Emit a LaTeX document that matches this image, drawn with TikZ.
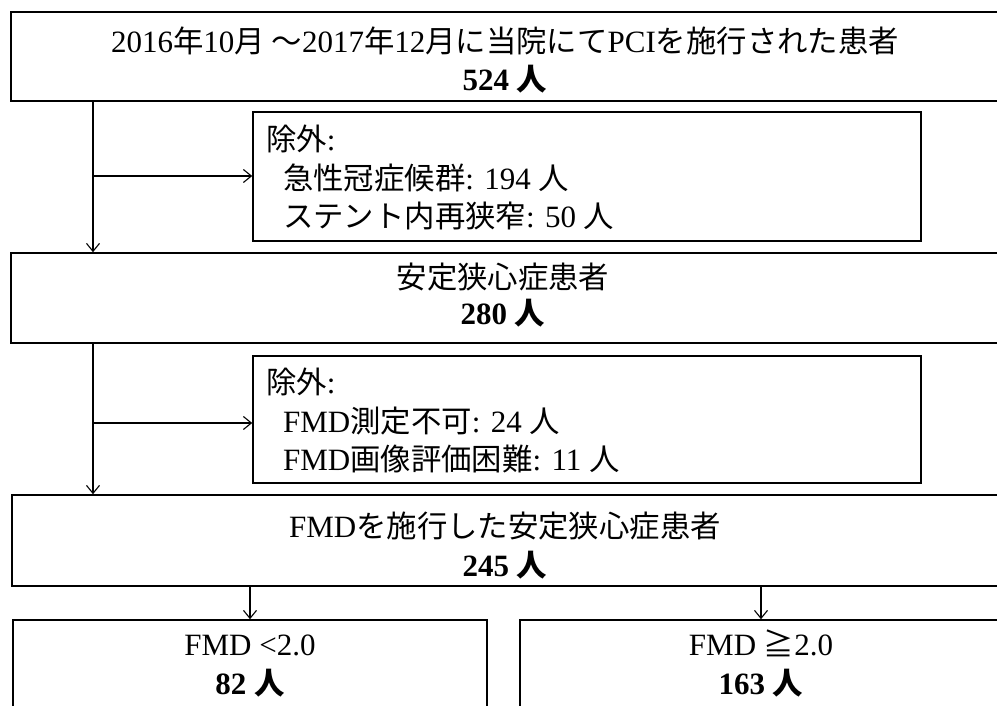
\documentclass[tikz,border=0pt]{standalone}
\usepackage{fontspec}
\setmainfont{Liberation Serif}
\newfontfamily\jf{Noto Sans CJK JP}[Scale=0.98]
\newcommand\J[1]{{\jf #1}}
\usetikzlibrary{arrows.meta}
\begin{document}
\begin{tikzpicture}[x=1pt,y=-1pt,
  box/.style={draw, line width=1.5pt, inner sep=0pt},
  arr/.style={line width=1.1pt, -{Straight Barb[length=8pt,width=13pt,line width=1.1pt]}},
  txt/.style={font=\fontsize{31}{37}\selectfont, inner sep=0pt, text height=26pt, text depth=5pt}]
\useasboundingbox (0,0) rectangle (997,706);
\clip (0,0) rectangle (997,706);
\fill[white] (0,0) rectangle (997,706);
% boxes
\node[box, minimum width=989pt, minimum height=89pt] (top) at (505.5,56.5) {};
\node[box, minimum width=668pt, minimum height=129pt] (ex1) at (587,176.5) {};
\node[box, minimum width=989pt, minimum height=90pt] (mid) at (505.5,298) {};
\node[box, minimum width=668pt, minimum height=127pt] (ex2) at (587,419.5) {};
\node[box, minimum width=988pt, minimum height=91pt] (fmd) at (506,540.5) {};
\node[box, minimum width=474pt, minimum height=110pt] (lo) at (250,675) {};
\node[box, minimum width=482pt, minimum height=110pt] (hi) at (761,675) {};
% texts
\node[txt] (t1a) at (505,42) {2016\J{年}10\J{月 ～}2017\J{年}12\J{月に当院にて}PCI\J{を施行された患者}};
\node[txt] (t1b) at (505,80) {\textbf{524 \J{人}}};
\node[txt, anchor=west] (e1a) at (266,140) {\J{除外}:};
\node[txt, anchor=west] (e1b) at (283,179) {\J{急性冠症候群}: 194 \J{人}};
\node[txt, anchor=west] (e1c) at (283,217) {\J{ステント内再狭窄}: 50 \J{人}};
\node[txt] (t2a) at (503,278) {\J{安定狭心症患者}};
\node[txt] (t2b) at (503,314) {\textbf{280 \J{人}}};
\node[txt, anchor=west] (e2a) at (266,383) {\J{除外}:};
\node[txt, anchor=west] (e2b) at (283,422) {FMD\J{測定不可}: 24 \J{人}};
\node[txt, anchor=west] (e2c) at (283,460) {FMD\J{画像評価困難}: 11 \J{人}};
\node[txt] (t3a) at (505,527) {FMD\J{を施行した安定狭心症患者}};
\node[txt] (t3b) at (505,566) {\textbf{245 \J{人}}};
\node[txt] (l1) at (250,645) {FMD <2.0};
\node[txt] (l2) at (250,684) {\textbf{82 \J{人}}};
\node[txt] (h1) at (761,645) {FMD \J{≧}2.0};
\node[txt] (h2) at (761,684) {\textbf{163 \J{人}}};
% connectors
\coordinate (b1) at (93,176);
\coordinate (b2) at (93,423);
\draw[arr] (b1 |- top.south) -- (b1 |- mid.north);
\draw[arr] (b1) -- (b1 -| ex1.west);
\draw[arr] (b2 |- mid.south) -- (b2 |- fmd.north);
\draw[arr] (b2) -- (b2 -| ex2.west);
\draw[arr] (lo.north |- fmd.south) -- (lo.north);
\draw[arr] (hi.north |- fmd.south) -- (hi.north);
\end{tikzpicture}
\end{document}
